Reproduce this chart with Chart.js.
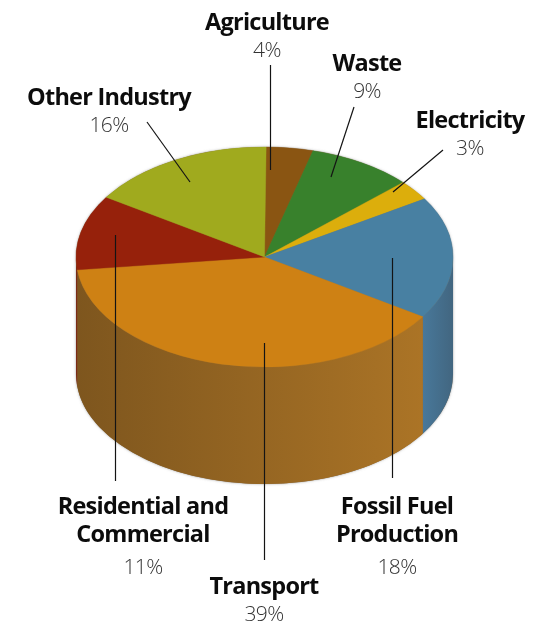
<!DOCTYPE html>
<html>
<head>
<meta charset="utf-8">
<title>Emissions by sector</title>
<script src="https://cdn.jsdelivr.net/npm/chart.js@4/dist/chart.umd.min.js"></script>
<style>
    html, body { margin: 0; padding: 0; background: #fff; }
    #wrap { position: relative; width: 543px; height: 623px; overflow: hidden; }
    canvas { position: absolute; left: 0; top: 0; }
    .lbl { position: absolute; transform: translateX(-50%); text-align: center; white-space: nowrap;
           font-family: "Open Sans", sans-serif; }
    .lbl b { display: block; font-weight: 700; font-size: 23.5px; line-height: 28px; color: #0c0c0c; letter-spacing: -0.75px; }
    .lbl span { display: block; font-weight: 300; font-size: 21px; line-height: 28px; color: #333; letter-spacing: -0.6px; }
</style>
</head>
<body>
<div id="wrap"><canvas id="pie" width="543" height="623"></canvas></div>
<script>
const categories = ['Agriculture', 'Waste', 'Electricity', 'Fossil Fuel Production', 'Transport', 'Residential and Commercial', 'Other Industry'];
const shares = [4, 9, 3, 18, 39, 11, 16];
const topColors = ['#8a5512', '#38812c', '#dcae0c', '#4880a2', '#ce8114', '#96210b', '#a0aa1e'];
const wallColors = [
    ['#6a4010', '#6a4010'], ['#2a6020', '#2a6020'], ['#a88208', '#a88208'],
    ['#48789a', '#426680'], ['#7e561e', '#ab7426'], ['#7a2a14', '#7a2a14'], ['#7c8418', '#7c8418']
];

// where the labels and leader lines sit
const labelPos = [
    { x: 267, y: 7 }, { x: 367, y: 48 }, { x: 470, y: 105 }, { x: 397, y: 491 },
    { x: 264, y: 571 }, { x: 143, y: 491 }, { x: 109, y: 82 }
];
const leaders = [
    [270.5, 65, 270.5, 170], [354, 107, 331, 177], [443, 150, 393, 192], [392.5, 258, 392.5, 478],
    [264.5, 343, 264.5, 560], [115.5, 235, 115.5, 481], [147, 122, 190, 182]
];

const CX = 264.5, CY = 257, RX = 188.5, RY = 110, DEPTH = 117;
const wrap = document.getElementById('wrap');

categories.forEach((name, i) => {
    const el = document.createElement('div');
    el.className = 'lbl';
    el.style.left = labelPos[i].x + 'px';
    el.style.top = labelPos[i].y + 'px';
    // the two long names wrap on two lines
    const lines = name === 'Fossil Fuel Production' ? ['Fossil Fuel', 'Production']
        : name === 'Residential and Commercial' ? ['Residential and', 'Commercial'] : [name];
    lines.forEach(t => {
        const b = document.createElement('b');
        b.textContent = t;
        el.appendChild(b);
    });
    const s = document.createElement('span');
    s.textContent = shares[i] + '%';
    if (lines.length > 1) s.style.marginTop = '5px';
    el.appendChild(s);
    wrap.appendChild(el);
});

// Squash the flat pie into an ellipse and put the side wall under it
const cylinder = {
    id: 'cylinder',
    beforeDatasetsDraw(chart) {
        const ctx = chart.ctx;
        const arcs = chart.getDatasetMeta(0).data;

        // soft grey rim round the whole shape
        ctx.save();
        ctx.shadowColor = 'rgba(110,110,110,0.7)';
        ctx.shadowBlur = 2.5;
        ctx.fillStyle = '#8a6a40';
        ctx.beginPath();
        ctx.ellipse(CX, CY, RX, RY, 0, Math.PI, 2 * Math.PI);
        ctx.ellipse(CX, CY + DEPTH, RX, RY, 0, 0, Math.PI);
        ctx.closePath();
        ctx.fill();
        ctx.restore();

        arcs.forEach((arc, i) => {
            [-1, 0, 1].forEach(k => {
                const a = Math.max(arc.startAngle + k * 2 * Math.PI, 0);
                const b = Math.min(arc.endAngle + k * 2 * Math.PI, Math.PI);
                if (b <= a) return;
                const x0 = CX + RX * Math.cos(b), x1 = CX + RX * Math.cos(a);
                const grad = ctx.createLinearGradient(x0, 0, x1, 0);
                grad.addColorStop(0, wallColors[i][0]);
                grad.addColorStop(1, wallColors[i][1]);
                ctx.beginPath();
                ctx.ellipse(CX, CY, RX, RY, 0, a, b);
                ctx.ellipse(CX, CY + DEPTH, RX, RY, 0, b, a, true);
                ctx.closePath();
                ctx.fillStyle = grad;
                ctx.fill();
            });
        });
        const first = arcs[0];
        ctx.save();
        ctx.translate(CX, CY);
        ctx.scale(1, RY / RX);
        ctx.translate(-first.x, -first.y);
    },
    afterDatasetsDraw(chart) {
        const ctx = chart.ctx;
        ctx.restore();
        ctx.strokeStyle = '#141414';
        ctx.lineWidth = 1.2;
        leaders.forEach(l => {
            ctx.beginPath();
            ctx.moveTo(l[0], l[1]);
            ctx.lineTo(l[2], l[3]);
            ctx.stroke();
        });
    }
};

new Chart(document.getElementById('pie'), {
    type: 'pie',
    data: {
        labels: categories,
        datasets: [{
            data: shares,
            backgroundColor: topColors,
            borderColor: topColors,
            borderWidth: 0.5,
            clip: false
        }]
    },
    options: {
        responsive: false,
        animation: false,
        rotation: 0.5,
        radius: RX,
        plugins: { legend: { display: false }, tooltip: { enabled: false } }
    },
    plugins: [cylinder]
});
</script>
</body>
</html>
